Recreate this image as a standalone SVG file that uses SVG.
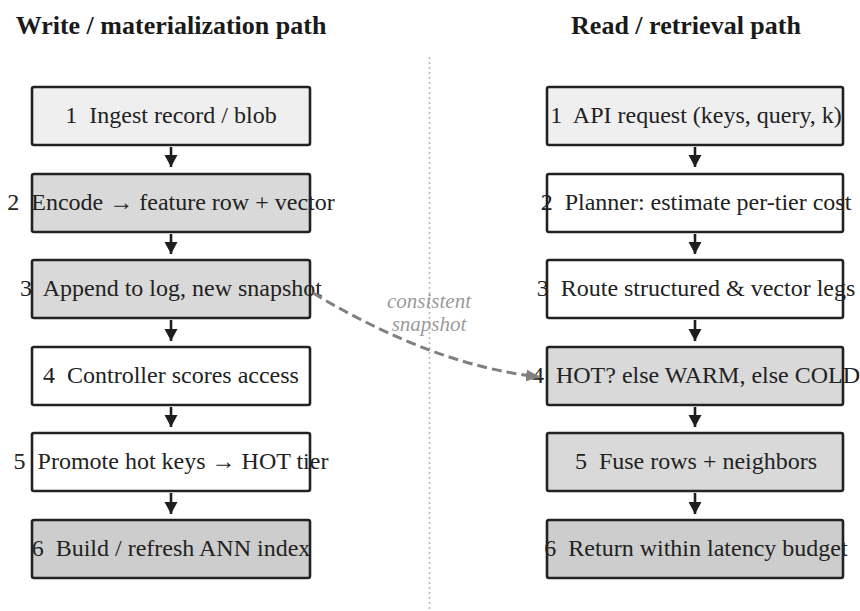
<svg xmlns="http://www.w3.org/2000/svg" width="860" height="611" viewBox="0 0 860 611">
  <defs>
    <marker id="ah" markerUnits="userSpaceOnUse" markerWidth="14" markerHeight="14" refX="12" refY="7" orient="auto">
      <path d="M0,0.5 L12,7 L0,13.5 Z" fill="#1e1e1e"/>
    </marker>
    <marker id="ahGray" markerUnits="userSpaceOnUse" markerWidth="16" markerHeight="14" refX="13" refY="7" orient="auto">
      <path d="M0,1 L14,7 L0,13 Z" fill="#808080"/>
    </marker>
    <style>
      text { font-family: 'Liberation Serif', Tinos, 'Times New Roman', Times, 'DejaVu Serif', serif; }
      .title { font-weight: bold; font-size: 26px; fill: #1a1a1a; text-anchor: middle; }
      .box { stroke: #222; stroke-width: 2.6; }
      .label { font-size: 24px; fill: #222; text-anchor: middle; }
      .light { fill: #efefef; }
      .mid { fill: #d9d9d9; }
      .dark { fill: #cdcdcd; }
      .white { fill: #ffffff; }
      .flow { stroke: #1e1e1e; stroke-width: 2.6; fill: none; marker-end: url(#ah); }
      .note { font-style: italic; font-size: 21px; fill: #9a9a9a; text-anchor: middle; }
    </style>
  </defs>

  <rect width="860" height="611" fill="#ffffff"/>

  <!-- column headings -->
  <text class="title" x="171" y="34">Write / materialization path</text>
  <text class="title" x="686" y="34">Read / retrieval path</text>

  <!-- column divider -->
  <line x1="429.5" y1="57" x2="429.5" y2="611" stroke="#b8b8b8" stroke-width="1.6" stroke-dasharray="2,3"/>

  <!-- write path -->
  <g id="w1"><rect class="box light" x="32" y="87" width="278" height="58" rx="2"/><text class="label" x="171" y="123">1&#160; Ingest record / blob</text></g>
  <g id="w2"><rect class="box mid" x="32" y="174" width="278" height="58" rx="2"/><text class="label" x="171" y="210">2&#160; Encode → feature row + vector</text></g>
  <g id="w3"><rect class="box mid" x="32" y="260" width="278" height="58" rx="2"/><text class="label" x="171" y="296">3&#160; Append to log, new snapshot</text></g>
  <g id="w4"><rect class="box white" x="32" y="347" width="278" height="58" rx="2"/><text class="label" x="171" y="383">4&#160; Controller scores access</text></g>
  <g id="w5"><rect class="box white" x="32" y="433" width="278" height="58" rx="2"/><text class="label" x="171" y="469">5&#160; Promote hot keys → HOT tier</text></g>
  <g id="w6"><rect class="box dark" x="32" y="520" width="278" height="58" rx="2"/><text class="label" x="171" y="556">6&#160; Build / refresh ANN index</text></g>

  <!-- read path -->
  <g id="r1"><rect class="box light" x="547" y="87" width="296" height="58" rx="2"/><text class="label" x="696" y="123">1&#160; API request (keys, query, k)</text></g>
  <g id="r2"><rect class="box white" x="547" y="174" width="296" height="58" rx="2"/><text class="label" x="696" y="210">2&#160; Planner: estimate per-tier cost</text></g>
  <g id="r3"><rect class="box white" x="547" y="260" width="296" height="58" rx="2"/><text class="label" x="696" y="296">3&#160; Route structured &amp; vector legs</text></g>
  <g id="r4"><rect class="box mid" x="547" y="347" width="296" height="58" rx="2"/><text class="label" x="696" y="383">4&#160; HOT? else WARM, else COLD</text></g>
  <g id="r5"><rect class="box mid" x="547" y="433" width="296" height="58" rx="2"/><text class="label" x="696" y="469">5&#160; Fuse rows + neighbors</text></g>
  <g id="r6"><rect class="box dark" x="547" y="520" width="296" height="58" rx="2"/><text class="label" x="696" y="556">6&#160; Return within latency budget</text></g>

  <!-- connectors -->
  <g id="connectors">
    <line class="flow" x1="171" y1="147" x2="171" y2="167"/>
    <line class="flow" x1="171" y1="234" x2="171" y2="254"/>
    <line class="flow" x1="171" y1="320" x2="171" y2="341"/>
    <line class="flow" x1="171" y1="407" x2="171" y2="427"/>
    <line class="flow" x1="171" y1="493" x2="171" y2="514"/>

    <line class="flow" x1="695" y1="147" x2="695" y2="167"/>
    <line class="flow" x1="695" y1="234" x2="695" y2="254"/>
    <line class="flow" x1="695" y1="320" x2="695" y2="341"/>
    <line class="flow" x1="695" y1="407" x2="695" y2="427"/>
    <line class="flow" x1="695" y1="493" x2="695" y2="514"/>

    <path d="M313,293 Q433,365 539,377" fill="none" stroke="#808080" stroke-width="3" stroke-dasharray="10,5" marker-end="url(#ahGray)"/>
    <text class="note" x="429" y="308">consistent</text>
    <text class="note" x="429" y="331">snapshot</text>
  </g>
</svg>
